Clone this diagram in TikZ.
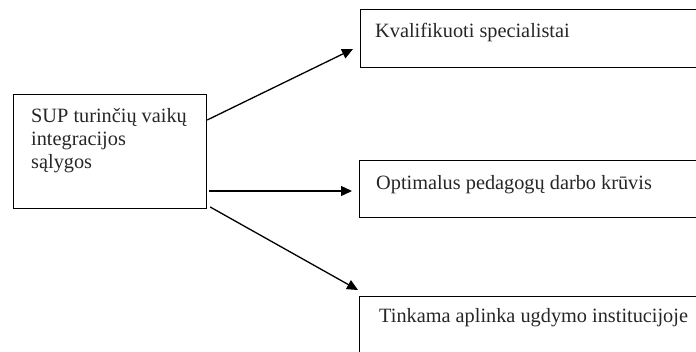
\documentclass[tikz,border=0pt]{standalone}
\usepackage{fontspec}
\setmainfont{Liberation Serif}
\usetikzlibrary{arrows.meta}
\begin{document}
\begin{tikzpicture}[x=1pt,y=-1pt,
  box/.style={draw=black,line width=1.2pt,rectangle,inner sep=0pt,anchor=north west},
  lbl/.style={inner sep=0pt,anchor=base west,align=left,font=\fontsize{20.3}{23}\selectfont,text=black!85},
  conn/.style={line width=1.3pt,-{Triangle[length=11pt,width=10pt]}}]
\useasboundingbox (0,0) rectangle (696,351);
\clip (0,0) rectangle (696,351);
\node[box,minimum width=193pt,minimum height=114pt] (L) at (13,94) {};
\node[lbl] (Lt) at (31,168) {SUP turinčių vaikų\\integracijos\\sąlygos};
\node[box,minimum width=360pt,minimum height=58pt] (T) at (360,9) {};
\node[lbl] (Tt) at (375,37) {Kvalifikuoti specialistai};
\node[box,minimum width=360pt,minimum height=57pt] (M) at (359,160) {};
\node[lbl] (Mt) at (376,189) {Optimalus pedagogų darbo krūvis};
\node[box,minimum width=360pt,minimum height=80pt] (B) at (359,296) {};
\node[lbl] (Bt) at (379,322) {Tinkama aplinka ugdymo institucijoje};
\draw[conn] ([shift={(0,26)}]L.north east) -- ([shift={(-7,40)}]T.north west);
\draw[conn] ([shift={(2,97)}]L.north east) -- ([shift={(-7,31)}]M.north west);
\draw[conn] ([shift={(3,113)}]L.north east) -- ([shift={(-1,-6)}]B.north west);
\end{tikzpicture}
\end{document}
